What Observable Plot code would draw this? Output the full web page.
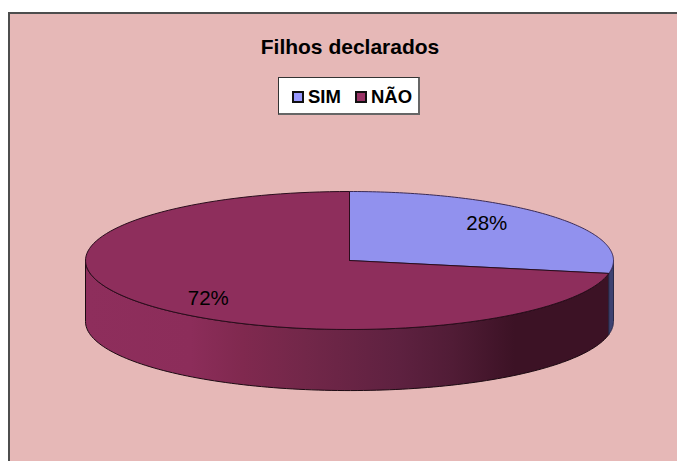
<!DOCTYPE html>
<html><head><meta charset="utf-8">
<script src="https://cdn.jsdelivr.net/npm/d3@7"></script>
<script src="https://cdn.jsdelivr.net/npm/@observablehq/plot@0.6"></script>
<style>
html,body{margin:0;padding:0;background:#fff;width:677px;height:461px;overflow:hidden;font-family:"Liberation Sans",Arial,sans-serif}
#panel{position:absolute;left:8px;top:12px;width:680px;height:460px;background:#E6B8B7;border:2px solid #4d4d4d;box-sizing:border-box}
#chart{position:absolute;left:0;top:0}
#title{position:absolute;left:0;width:700px;top:35px;text-align:center;font-weight:bold;font-size:21px;line-height:24px;color:#000}
#legend{position:absolute;left:278px;top:77px;width:142px;height:38px;box-sizing:border-box;background:#fff;border:1px solid #333;border-right:2px solid #666;border-bottom:2px solid #666;font-weight:bold;font-size:18.5px;color:#000}
.sw{position:absolute;top:13px;width:12px;height:12px;box-sizing:border-box;border:2px solid #111}
.lb{position:absolute;top:8px;line-height:21px}
</style></head><body>
<div id="panel"></div>
<div id="chart"></div>
<div id="title"></div>
<div id="legend"></div>
<script>
const chartTitle = "Filhos declarados";
const categories = ["SIM", "NÃO"];
const values = [28, 72];
const topColors = ["#9191EE", "#8E2E5C"];
const legendColors = ["#9999FF", "#993366"];
const sideColor = "#3E4272";
const depth = 0.885;

const total = d3.sum(values);
const angles = d3.cumsum([0, ...values]).map(v => v / total * 2 * Math.PI);
const arc = (a0, a1, dy = 0) => d3.range(0, 121).map(i => {
  const a = a0 + (a1 - a0) * i / 120;
  return {x: Math.sin(a), y: Math.cos(a) - dy};
});
const slices = categories.map((c, i) => ({c, a0: angles[i], a1: angles[i + 1]}));
const topShape = s => [{x: 0, y: 0}, ...arc(s.a0, s.a1), {x: 0, y: 0}];
const wall = (a0, a1) => { const t = arc(a0, a1), b = arc(a1, a0, depth); return [...t, ...b, t[0]]; };
const quarter = Math.PI / 2, three = 3 * Math.PI / 2;
const sideSim = wall(quarter, angles[1]);
const sideNao = wall(angles[1], three);
const labels = [
  {t: "28%", x: 0.52, y: 0.54},
  {t: "72%", x: -0.535, y: -0.55}
];

const shadeId = "side-shade";
const chart = Plot.plot({
  width: 677, height: 461,
  margin: 0,
  style: {background: "transparent", overflow: "visible"},
  x: {domain: [-1, 1], range: [85, 613], axis: null},
  y: {domain: [-1, 1], range: [329, 191], axis: null},
  marks: [
    () => {
      const svg = d3.create("svg:defs");
      const g = svg.append("linearGradient").attr("id", shadeId)
        .attr("x1", 0).attr("x2", 1).attr("y1", 0).attr("y2", 0);
      [[0, "#8E2E5C"], [0.2, "#8C2D5A"], [0.3, "#80294F"], [0.42, "#722749"], [0.6, "#5E2140"], [0.7, "#511C36"], [0.82, "#3C1225"], [1, "#3C1225"]]
        .forEach(([o, c]) => g.append("stop").attr("offset", o).attr("stop-color", c));
      return svg.node();
    },
    Plot.line(sideNao, {x: "x", y: "y", fill: `url(#${shadeId})`, stroke: "#1c0a12", strokeWidth: 1, curve: "linear"}),
    Plot.line(sideSim, {x: "x", y: "y", fill: sideColor, stroke: "#2a2a48", strokeWidth: 1, curve: "linear"}),
    ...slices.map((s, i) => Plot.line(topShape(s), {x: "x", y: "y", fill: topColors[i], stroke: i === 0 ? "#3a2a55" : "#2a0d1c", strokeWidth: 1, curve: "linear"})),
    Plot.text(labels, {x: "x", y: "y", text: "t", fontSize: 20.5, fill: "#000", fontFamily: "Liberation Sans, Arial, sans-serif"})
  ]
});
document.getElementById("chart").appendChild(chart);
document.getElementById("title").textContent = chartTitle;
const lg = document.getElementById("legend");
const swX = [13, 76], lbX = [29, 92];
categories.forEach((c, i) => {
  const s = document.createElement("div"); s.className = "sw";
  s.style.left = swX[i] + "px"; s.style.background = legendColors[i]; lg.appendChild(s);
  const l = document.createElement("div"); l.className = "lb";
  l.style.left = lbX[i] + "px"; l.textContent = c; lg.appendChild(l);
});
</script>
</body></html>
